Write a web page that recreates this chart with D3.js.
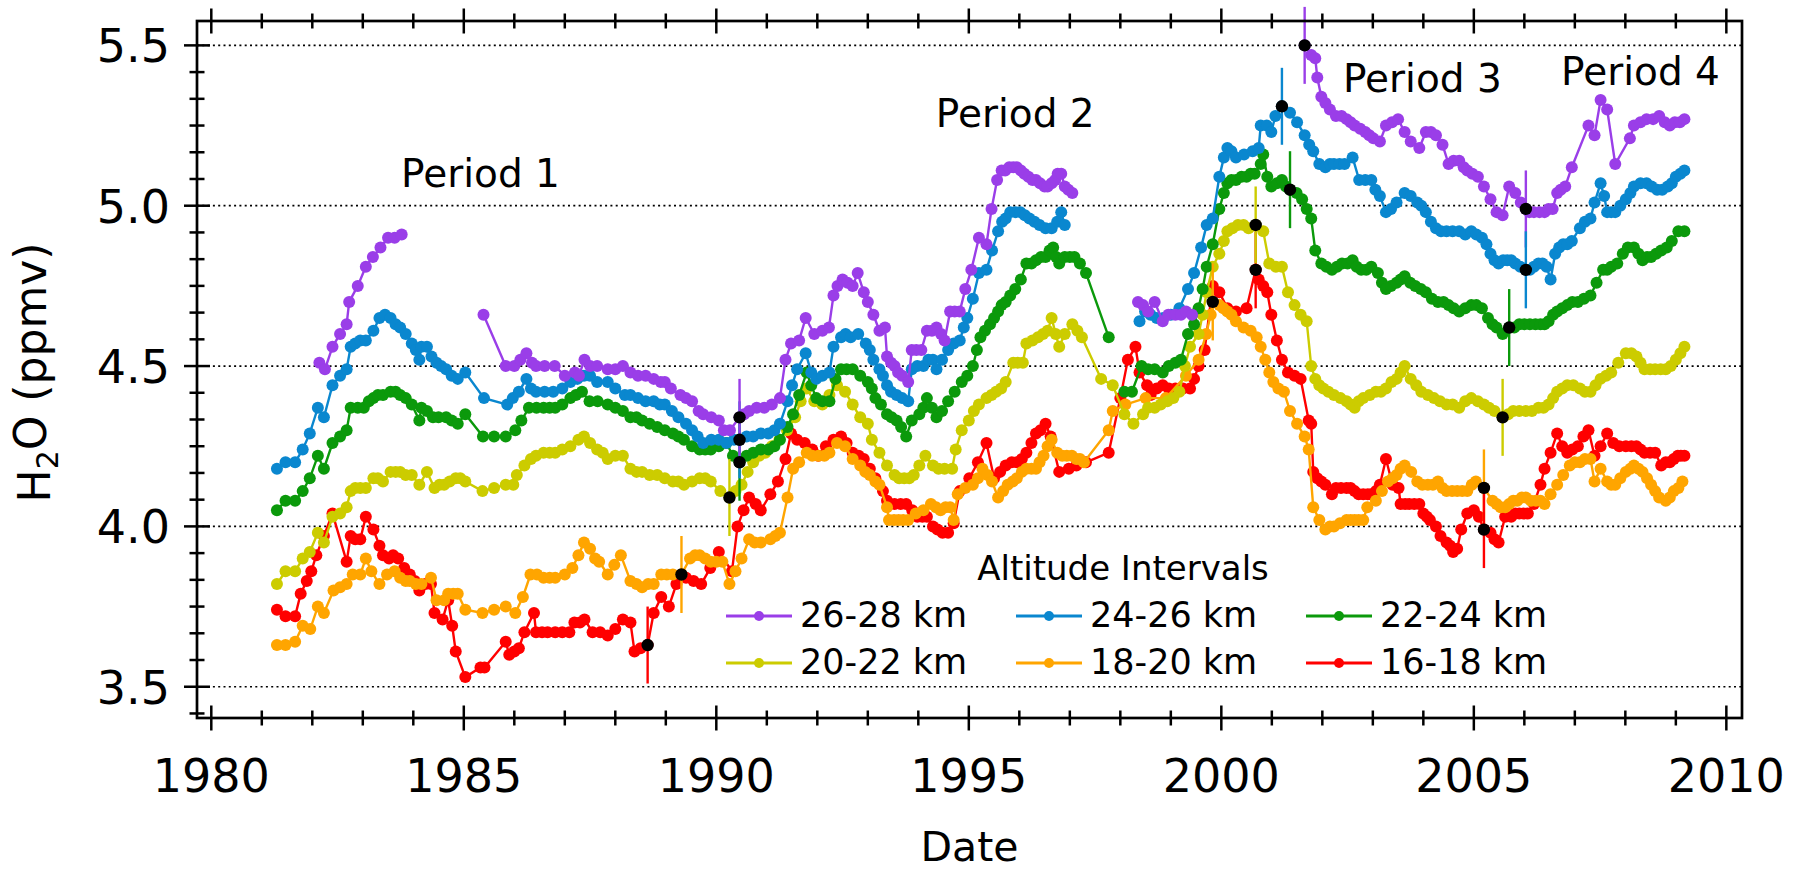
<!DOCTYPE html>
<html>
<head>
<meta charset="utf-8">
<script src="https://cdn.jsdelivr.net/npm/d3@7"></script>
<style>
    body { margin: 0; background: #fff; }
    #chart { width: 1804px; height: 872px; }
    text { font-family: "DejaVu Sans", sans-serif; fill: #000; }
</style>
</head>
<body>
<div id="chart"></div>
<script>
// H2O time series by altitude interval, [year, ppmv], null = gap in the record
const altitudeLabels = ["26-28 km", "24-26 km", "22-24 km", "20-22 km", "18-20 km", "16-18 km"];

const ser2628 = [
    [1982.14,4.51],[1982.25,4.49],[1982.4,4.56],[1982.55,4.60],[1982.68,4.63],[1982.73,4.70],[1982.9,4.75],[1983.06,4.81],[1983.2,4.84],[1983.35,4.87],[1983.5,4.90],[1983.63,4.90],[1983.77,4.91], null,
    [1985.39,4.66],[1985.83,4.50],[1986.0,4.50],[1986.12,4.52],[1986.24,4.54],[1986.35,4.51],[1986.43,4.50],[1986.6,4.50],[1986.8,4.50],[1987.0,4.47],[1987.2,4.48],[1987.28,4.47],[1987.39,4.52],[1987.5,4.50],[1987.64,4.50],[1987.85,4.49],[1988.0,4.49],[1988.15,4.50],[1988.3,4.48],[1988.45,4.47],[1988.6,4.47],[1988.76,4.46],[1988.9,4.45],[1988.98,4.45],[1989.1,4.43],[1989.29,4.41],[1989.4,4.40],[1989.52,4.39],[1989.65,4.36],[1989.74,4.35],[1989.9,4.34],[1990.05,4.33],[1990.15,4.30],[1990.27,4.30],[1990.46,4.34],[1990.55,4.35],[1990.65,4.36],[1990.8,4.37],[1990.95,4.37],[1991.1,4.38],[1991.26,4.40],[1991.37,4.52],[1991.48,4.57],[1991.64,4.58],[1991.77,4.65],[1991.94,4.60],[1992.1,4.61],[1992.23,4.62],[1992.32,4.72],[1992.4,4.75],[1992.5,4.77],[1992.6,4.76],[1992.7,4.75],[1992.8,4.79],[1992.92,4.73],[1993.0,4.70],[1993.11,4.66],[1993.23,4.61],[1993.34,4.62],[1993.38,4.53],[1993.46,4.51],[1993.53,4.50],[1993.6,4.48],[1993.68,4.47],[1993.8,4.45],[1993.87,4.55],[1993.96,4.55],[1994.06,4.55],[1994.17,4.61],[1994.27,4.61],[1994.36,4.62],[1994.45,4.60],[1994.52,4.58],[1994.63,4.67],[1994.72,4.67],[1994.82,4.67],[1994.93,4.74],[1995.05,4.80],[1995.2,4.90],[1995.35,4.88],[1995.45,4.99],[1995.56,5.08],[1995.65,5.11],[1995.72,5.11],[1995.8,5.12],[1995.88,5.12],[1995.95,5.12],[1996.03,5.11],[1996.1,5.10],[1996.18,5.09],[1996.26,5.08],[1996.33,5.08],[1996.41,5.07],[1996.5,5.06],[1996.56,5.06],[1996.64,5.07],[1996.71,5.08],[1996.76,5.10],[1996.83,5.10],[1996.9,5.06],[1996.97,5.05],[1997.05,5.04], null,
    [1998.35,4.70],[1998.45,4.69],[1998.55,4.67],[1998.68,4.70],[1998.84,4.64],[1998.95,4.66],[1999.09,4.66],[1999.2,4.66],[1999.3,4.67],[1999.42,4.66], null,
    [2001.65,5.50],[2001.78,5.47],[2001.86,5.46],[2001.9,5.40],[2001.98,5.34],[2002.06,5.32],[2002.15,5.30],[2002.27,5.28],[2002.38,5.28],[2002.48,5.27],[2002.56,5.26],[2002.64,5.25],[2002.75,5.24],[2002.85,5.23],[2002.93,5.22],[2003.01,5.21],[2003.14,5.20],[2003.26,5.25],[2003.38,5.26],[2003.5,5.27],[2003.63,5.23],[2003.75,5.20],[2003.92,5.18],[2004.05,5.23],[2004.15,5.23],[2004.25,5.22],[2004.38,5.19],[2004.5,5.13],[2004.6,5.14],[2004.71,5.14],[2004.8,5.12],[2004.87,5.11],[2004.97,5.10],[2005.08,5.09],[2005.2,5.06],[2005.33,5.02],[2005.45,4.98],[2005.57,4.97],[2005.7,5.06],[2005.82,5.04],[2005.93,5.01],[2006.03,4.99],[2006.1,4.98],[2006.19,4.98],[2006.3,4.98],[2006.4,4.98],[2006.48,4.99],[2006.56,4.99],[2006.65,5.04],[2006.72,5.05],[2006.81,5.06],[2006.94,5.12],[2007.27,5.25],[2007.39,5.22],[2007.51,5.33],[2007.64,5.30],[2007.8,5.13],[2008.09,5.21],[2008.17,5.25],[2008.3,5.26],[2008.42,5.27],[2008.55,5.27],[2008.67,5.28],[2008.78,5.26],[2008.88,5.25],[2008.98,5.26],[2009.08,5.26],[2009.17,5.27]
];

const ser2426 = [
    [1981.3,4.18],[1981.47,4.20],[1981.66,4.20],[1981.81,4.24],[1981.95,4.29],[1982.11,4.37],[1982.23,4.34],[1982.4,4.44],[1982.55,4.47],[1982.68,4.49],[1982.76,4.56],[1982.85,4.57],[1982.95,4.58],[1983.06,4.58],[1983.21,4.61],[1983.33,4.65],[1983.44,4.66],[1983.55,4.65],[1983.65,4.63],[1983.74,4.62],[1983.85,4.60],[1983.97,4.57],[1984.05,4.55],[1984.12,4.52],[1984.16,4.56],[1984.27,4.56],[1984.36,4.53],[1984.46,4.51],[1984.55,4.50],[1984.65,4.49],[1984.76,4.47],[1984.88,4.46],[1985.03,4.48],[1985.4,4.40],[1985.86,4.38],[1985.97,4.40],[1986.09,4.42],[1986.24,4.46],[1986.33,4.43],[1986.43,4.42],[1986.6,4.42],[1986.77,4.42],[1986.95,4.43],[1987.11,4.45],[1987.25,4.46],[1987.38,4.47],[1987.5,4.47],[1987.64,4.45],[1987.85,4.45],[1988.0,4.43],[1988.19,4.41],[1988.3,4.41],[1988.45,4.40],[1988.6,4.39],[1988.76,4.39],[1988.88,4.38],[1988.98,4.38],[1989.12,4.36],[1989.25,4.34],[1989.4,4.32],[1989.52,4.30],[1989.63,4.28],[1989.74,4.26],[1989.9,4.27],[1990.05,4.27],[1990.2,4.26],[1990.35,4.27],[1990.46,4.27],[1990.6,4.28],[1990.73,4.28],[1990.88,4.29],[1991.03,4.29],[1991.15,4.30],[1991.26,4.32],[1991.41,4.39],[1991.5,4.44],[1991.6,4.49],[1991.77,4.54],[1991.88,4.48],[1991.98,4.46],[1992.1,4.47],[1992.24,4.48],[1992.32,4.56],[1992.47,4.59],[1992.56,4.60],[1992.66,4.59],[1992.81,4.60],[1992.96,4.57],[1993.04,4.55],[1993.11,4.52],[1993.23,4.49],[1993.3,4.47],[1993.38,4.44],[1993.46,4.42],[1993.57,4.41],[1993.68,4.40],[1993.8,4.39],[1993.87,4.49],[1993.98,4.50],[1994.1,4.50],[1994.2,4.52],[1994.29,4.52],[1994.36,4.49],[1994.47,4.52],[1994.59,4.55],[1994.7,4.57],[1994.82,4.58],[1994.9,4.62],[1994.97,4.65],[1995.08,4.71],[1995.2,4.79],[1995.35,4.80],[1995.46,4.86],[1995.58,4.92],[1995.66,4.95],[1995.73,4.96],[1995.82,4.98],[1995.92,4.98],[1996.02,4.98],[1996.11,4.97],[1996.2,4.96],[1996.3,4.95],[1996.4,4.94],[1996.52,4.93],[1996.64,4.93],[1996.75,4.95],[1996.83,4.98],[1996.9,4.94], null,
    [1998.38,4.64],[1998.49,4.67],[1998.6,4.66],[1998.72,4.65],[1998.85,4.65],[1999.0,4.66],[1999.17,4.68],[1999.34,4.74],[1999.46,4.79],[1999.6,4.87],[1999.71,4.94],[1999.83,4.96],[1999.96,5.09],[2000.05,5.15],[2000.12,5.18],[2000.2,5.17],[2000.29,5.15],[2000.45,5.16],[2000.62,5.17],[2000.74,5.18],[2000.78,5.25],[2000.9,5.25],[2000.99,5.23],[2001.07,5.28],[2001.2,5.31],[2001.36,5.29],[2001.5,5.26],[2001.65,5.22],[2001.74,5.19],[2001.82,5.17],[2001.94,5.13],[2002.06,5.12],[2002.15,5.13],[2002.23,5.13],[2002.34,5.13],[2002.44,5.13],[2002.6,5.15],[2002.73,5.08],[2002.85,5.08],[2002.97,5.08],[2003.05,5.05],[2003.14,5.03],[2003.26,4.98],[2003.36,4.99],[2003.47,5.01],[2003.63,5.04],[2003.75,5.03],[2003.88,5.01],[2003.96,5.00],[2004.05,4.98],[2004.15,4.95],[2004.25,4.93],[2004.35,4.92],[2004.46,4.92],[2004.58,4.92],[2004.71,4.92],[2004.83,4.91],[2004.95,4.92],[2005.05,4.91],[2005.16,4.90],[2005.25,4.88],[2005.33,4.85],[2005.41,4.83],[2005.49,4.82],[2005.58,4.83],[2005.66,4.83],[2005.74,4.83],[2005.82,4.82],[2005.92,4.81],[2006.03,4.80],[2006.11,4.80],[2006.19,4.81],[2006.28,4.82],[2006.36,4.82],[2006.44,4.81],[2006.52,4.77],[2006.61,4.85],[2006.69,4.87],[2006.77,4.88],[2006.85,4.88],[2006.94,4.89],[2007.1,4.93],[2007.2,4.95],[2007.31,4.96],[2007.39,5.01],[2007.51,5.07],[2007.58,5.03],[2007.64,4.98],[2007.72,4.98],[2007.8,4.98],[2007.9,5.00],[2008.01,5.02],[2008.1,5.04],[2008.17,5.06],[2008.3,5.07],[2008.42,5.07],[2008.52,5.06],[2008.63,5.05],[2008.73,5.05],[2008.84,5.06],[2008.92,5.07],[2009.0,5.09],[2009.09,5.10],[2009.17,5.11]
];

const ser2224 = [
    [1981.3,4.05],[1981.47,4.08],[1981.66,4.08],[1981.81,4.11],[1981.95,4.15],[1982.11,4.22],[1982.23,4.18],[1982.4,4.26],[1982.55,4.28],[1982.68,4.30],[1982.76,4.37],[1982.9,4.37],[1983.02,4.37],[1983.12,4.39],[1983.21,4.40],[1983.3,4.41],[1983.4,4.41],[1983.55,4.42],[1983.65,4.42],[1983.74,4.41],[1983.85,4.40],[1983.97,4.38],[1984.12,4.33],[1984.16,4.37],[1984.27,4.36],[1984.39,4.34],[1984.5,4.34],[1984.65,4.34],[1984.76,4.33],[1984.88,4.32],[1985.03,4.35],[1985.38,4.28],[1985.6,4.28],[1985.83,4.28],[1986.02,4.30],[1986.14,4.33],[1986.29,4.37],[1986.44,4.37],[1986.58,4.37],[1986.7,4.37],[1986.81,4.37],[1986.95,4.38],[1987.11,4.40],[1987.22,4.41],[1987.34,4.42],[1987.49,4.39],[1987.65,4.39],[1987.85,4.38],[1988.0,4.37],[1988.15,4.36],[1988.3,4.34],[1988.42,4.34],[1988.53,4.33],[1988.68,4.32],[1988.83,4.31],[1988.98,4.30],[1989.14,4.29],[1989.25,4.28],[1989.36,4.27],[1989.52,4.25],[1989.67,4.24],[1989.78,4.24],[1989.89,4.24],[1990.05,4.25],[1990.2,4.26],[1990.33,4.22],[1990.46,4.20],[1990.6,4.22],[1990.73,4.23],[1990.88,4.24],[1991.03,4.24],[1991.15,4.25],[1991.26,4.27],[1991.41,4.31],[1991.52,4.35],[1991.64,4.41],[1991.79,4.48],[1991.88,4.44],[1991.98,4.40],[1992.1,4.39],[1992.24,4.39],[1992.36,4.46],[1992.47,4.49],[1992.58,4.49],[1992.7,4.49],[1992.85,4.47],[1993.0,4.45],[1993.08,4.43],[1993.15,4.40],[1993.26,4.38],[1993.38,4.35],[1993.47,4.34],[1993.57,4.33],[1993.66,4.31],[1993.76,4.28],[1993.87,4.33],[1994.02,4.35],[1994.1,4.37],[1994.17,4.40],[1994.27,4.37],[1994.36,4.34],[1994.47,4.36],[1994.59,4.39],[1994.72,4.42],[1994.86,4.45],[1994.97,4.47],[1995.08,4.50],[1995.16,4.55],[1995.23,4.59],[1995.32,4.61],[1995.42,4.63],[1995.5,4.65],[1995.58,4.67],[1995.65,4.69],[1995.73,4.70],[1995.82,4.72],[1995.92,4.74],[1996.03,4.77],[1996.14,4.82],[1996.24,4.82],[1996.33,4.83],[1996.43,4.84],[1996.52,4.84],[1996.6,4.86],[1996.67,4.87],[1996.73,4.84],[1996.79,4.82],[1996.9,4.84],[1997.0,4.84],[1997.09,4.84],[1997.2,4.82],[1997.32,4.79],[1997.77,4.59], null,
    [1998.08,4.42],[1998.23,4.42],[1998.42,4.50],[1998.55,4.49],[1998.68,4.49],[1998.84,4.48],[1998.96,4.50],[1999.09,4.51],[1999.2,4.52],[1999.34,4.60],[1999.46,4.63],[1999.55,4.68],[1999.63,4.74],[1999.71,4.81],[1999.83,4.88],[1999.96,4.99],[2000.05,5.04],[2000.12,5.07],[2000.2,5.08],[2000.29,5.08],[2000.4,5.09],[2000.5,5.09],[2000.58,5.10],[2000.66,5.10],[2000.78,5.13],[2000.83,5.16],[2000.91,5.09],[2000.99,5.06],[2001.1,5.07],[2001.2,5.08],[2001.28,5.06],[2001.36,5.05],[2001.49,5.04],[2001.6,5.02],[2001.69,4.99],[2001.78,4.96],[2001.86,4.86],[2001.98,4.82],[2002.08,4.81],[2002.19,4.80],[2002.29,4.81],[2002.39,4.82],[2002.5,4.82],[2002.6,4.83],[2002.68,4.81],[2002.77,4.80],[2002.87,4.80],[2002.97,4.81],[2003.1,4.79],[2003.18,4.76],[2003.26,4.74],[2003.36,4.75],[2003.47,4.76],[2003.55,4.77],[2003.63,4.78],[2003.74,4.76],[2003.84,4.75],[2003.95,4.74],[2004.05,4.73],[2004.17,4.71],[2004.29,4.70],[2004.4,4.70],[2004.5,4.69],[2004.6,4.68],[2004.71,4.67],[2004.83,4.68],[2004.95,4.69],[2005.05,4.69],[2005.16,4.68],[2005.28,4.65],[2005.37,4.63],[2005.45,4.62],[2005.57,4.60],[2005.7,4.62],[2005.8,4.62],[2005.9,4.63],[2006.0,4.63],[2006.11,4.63],[2006.22,4.63],[2006.32,4.63],[2006.4,4.63],[2006.48,4.64],[2006.57,4.66],[2006.65,4.67],[2006.75,4.68],[2006.85,4.69],[2006.95,4.70],[2007.06,4.70],[2007.18,4.71],[2007.31,4.72],[2007.43,4.76],[2007.56,4.80],[2007.64,4.80],[2007.72,4.81],[2007.84,4.82],[2007.95,4.85],[2008.05,4.87],[2008.17,4.87],[2008.26,4.85],[2008.34,4.83],[2008.43,4.84],[2008.51,4.84],[2008.61,4.85],[2008.71,4.86],[2008.82,4.87],[2008.92,4.89],[2009.05,4.92],[2009.17,4.92]
];

const ser2022 = [
    [1981.3,3.82],[1981.47,3.86],[1981.66,3.86],[1981.81,3.90],[1981.95,3.92],[1982.11,3.98],[1982.23,3.95],[1982.4,4.03],[1982.55,4.04],[1982.68,4.06],[1982.76,4.11],[1982.85,4.12],[1982.95,4.12],[1983.06,4.12],[1983.21,4.15],[1983.3,4.15],[1983.4,4.14],[1983.55,4.17],[1983.65,4.17],[1983.74,4.17],[1983.85,4.16],[1983.97,4.16],[1984.12,4.13],[1984.27,4.17],[1984.42,4.12],[1984.52,4.13],[1984.61,4.13],[1984.72,4.14],[1984.84,4.15],[1984.93,4.15],[1985.03,4.14],[1985.37,4.11],[1985.6,4.12],[1985.83,4.13],[1985.98,4.13],[1986.05,4.16],[1986.2,4.19],[1986.33,4.21],[1986.43,4.22],[1986.58,4.23],[1986.7,4.23],[1986.81,4.23],[1986.95,4.24],[1987.11,4.25],[1987.27,4.27],[1987.38,4.28],[1987.5,4.26],[1987.64,4.24],[1987.75,4.23],[1987.85,4.21],[1988.0,4.22],[1988.15,4.22],[1988.3,4.18],[1988.42,4.17],[1988.53,4.17],[1988.68,4.16],[1988.83,4.16],[1988.98,4.15],[1989.14,4.14],[1989.25,4.14],[1989.36,4.13],[1989.52,4.14],[1989.67,4.15],[1989.78,4.15],[1989.89,4.14],[1990.08,4.11],[1990.26,4.09],[1990.38,4.11],[1990.5,4.13],[1990.62,4.17],[1990.73,4.20],[1990.85,4.22],[1990.97,4.23],[1991.1,4.25],[1991.25,4.27],[1991.4,4.30],[1991.56,4.34],[1991.67,4.39],[1991.79,4.43],[1991.94,4.39],[1992.1,4.38],[1992.24,4.41],[1992.39,4.44],[1992.55,4.42],[1992.7,4.38],[1992.85,4.34],[1993.0,4.32],[1993.08,4.27],[1993.23,4.23],[1993.38,4.19],[1993.53,4.16],[1993.62,4.15],[1993.72,4.15],[1993.82,4.15],[1993.91,4.16],[1994.02,4.19],[1994.14,4.22],[1994.29,4.19],[1994.4,4.18],[1994.52,4.18],[1994.67,4.18],[1994.74,4.24],[1994.86,4.30],[1995.0,4.33],[1995.1,4.36],[1995.2,4.38],[1995.35,4.40],[1995.45,4.41],[1995.54,4.42],[1995.64,4.43],[1995.73,4.45],[1995.88,4.51],[1995.97,4.51],[1996.07,4.51],[1996.14,4.57],[1996.26,4.58],[1996.37,4.59],[1996.47,4.60],[1996.56,4.61],[1996.64,4.65],[1996.72,4.60],[1996.79,4.56],[1996.9,4.60],[1997.05,4.63],[1997.15,4.61],[1997.24,4.59],[1997.62,4.46],[1997.85,4.44],[1998.08,4.35],[1998.26,4.32],[1998.45,4.35],[1998.55,4.37],[1998.68,4.37],[1998.8,4.38],[1998.93,4.39],[1999.05,4.40],[1999.17,4.42],[1999.28,4.50],[1999.38,4.56],[1999.55,4.60],[1999.63,4.66],[1999.71,4.73],[1999.83,4.81],[1999.96,4.85],[2000.05,4.89],[2000.12,4.92],[2000.22,4.93],[2000.33,4.94],[2000.44,4.94],[2000.54,4.93],[2000.68,4.94],[2000.83,4.92],[2000.95,4.82],[2001.08,4.81],[2001.2,4.81],[2001.32,4.73],[2001.45,4.69],[2001.57,4.66],[2001.69,4.64],[2001.78,4.50],[2001.86,4.46],[2001.94,4.44],[2002.02,4.43],[2002.12,4.42],[2002.23,4.41],[2002.36,4.40],[2002.48,4.39],[2002.56,4.38],[2002.64,4.37],[2002.72,4.39],[2002.81,4.40],[2002.94,4.41],[2003.06,4.42],[2003.16,4.42],[2003.26,4.43],[2003.37,4.45],[2003.47,4.46],[2003.55,4.48],[2003.63,4.50],[2003.75,4.46],[2003.86,4.44],[2003.96,4.42],[2004.09,4.41],[2004.21,4.40],[2004.33,4.39],[2004.46,4.38],[2004.58,4.38],[2004.71,4.37],[2004.83,4.39],[2004.95,4.40],[2005.08,4.39],[2005.2,4.38],[2005.3,4.37],[2005.41,4.36],[2005.57,4.34],[2005.68,4.35],[2005.78,4.36],[2005.9,4.36],[2006.03,4.36],[2006.15,4.36],[2006.28,4.37],[2006.38,4.37],[2006.48,4.38],[2006.57,4.40],[2006.65,4.42],[2006.75,4.43],[2006.85,4.44],[2006.97,4.44],[2007.1,4.43],[2007.2,4.42],[2007.31,4.42],[2007.41,4.44],[2007.51,4.46],[2007.62,4.47],[2007.72,4.48],[2007.86,4.51],[2008.01,4.54],[2008.12,4.54],[2008.22,4.53],[2008.3,4.51],[2008.38,4.49],[2008.49,4.49],[2008.59,4.49],[2008.7,4.49],[2008.8,4.49],[2008.9,4.50],[2009.0,4.52],[2009.09,4.54],[2009.17,4.56]
];

const ser1820 = [
    [1981.3,3.63],[1981.47,3.63],[1981.66,3.64],[1981.81,3.69],[1981.96,3.68],[1982.11,3.75],[1982.23,3.73],[1982.42,3.80],[1982.55,3.81],[1982.68,3.82],[1982.8,3.85],[1982.95,3.85],[1983.06,3.90],[1983.17,3.86],[1983.33,3.82],[1983.48,3.85],[1983.63,3.86],[1983.74,3.84],[1983.85,3.83],[1983.93,3.83],[1984.05,3.82],[1984.16,3.82],[1984.35,3.84],[1984.46,3.77],[1984.61,3.77],[1984.69,3.79],[1984.79,3.79],[1984.88,3.79],[1985.03,3.74],[1985.37,3.73],[1985.6,3.74],[1985.83,3.75],[1986.02,3.73],[1986.17,3.78],[1986.32,3.85],[1986.45,3.85],[1986.58,3.84],[1986.7,3.84],[1986.81,3.84],[1987.0,3.85],[1987.15,3.87],[1987.27,3.91],[1987.38,3.95],[1987.5,3.93],[1987.6,3.90],[1987.68,3.89],[1987.85,3.85],[1987.98,3.88],[1988.11,3.91],[1988.3,3.83],[1988.42,3.82],[1988.53,3.81],[1988.65,3.82],[1988.76,3.82],[1988.91,3.85],[1989.02,3.85],[1989.14,3.85],[1989.31,3.85],[1989.48,3.90],[1989.58,3.91],[1989.67,3.91],[1989.78,3.90],[1989.89,3.89],[1990.0,3.89],[1990.12,3.89],[1990.26,3.82],[1990.38,3.86],[1990.5,3.90],[1990.65,3.96],[1990.76,3.95],[1990.88,3.95],[1991.07,3.96],[1991.17,3.97],[1991.26,3.98],[1991.41,4.09],[1991.52,4.18],[1991.64,4.20],[1991.79,4.23],[1991.9,4.22],[1992.02,4.22],[1992.14,4.22],[1992.24,4.23],[1992.39,4.26],[1992.55,4.25],[1992.7,4.21],[1992.85,4.19],[1992.95,4.17],[1993.04,4.16],[1993.15,4.14],[1993.23,4.13],[1993.38,4.06],[1993.42,4.02],[1993.52,4.02],[1993.61,4.02],[1993.7,4.02],[1993.8,4.02],[1993.95,4.04],[1994.1,4.05],[1994.25,4.07],[1994.35,4.06],[1994.44,4.05],[1994.54,4.06],[1994.63,4.06],[1994.7,4.02],[1994.78,4.10],[1994.93,4.12],[1995.08,4.13],[1995.18,4.15],[1995.27,4.18],[1995.37,4.16],[1995.46,4.14],[1995.58,4.09],[1995.68,4.11],[1995.77,4.13],[1995.87,4.14],[1995.95,4.15],[1996.05,4.17],[1996.14,4.18],[1996.24,4.18],[1996.33,4.18],[1996.4,4.20],[1996.48,4.22],[1996.56,4.25],[1996.64,4.27],[1996.75,4.23],[1996.85,4.22],[1996.94,4.22],[1997.04,4.22],[1997.13,4.21],[1997.2,4.21],[1997.28,4.20],[1997.77,4.30],[1997.85,4.36],[1998.1,4.38],[1998.5,4.40],[1998.9,4.40],[1999.3,4.47],[1999.55,4.52],[1999.7,4.60],[1999.79,4.66],[1999.83,4.70],[1999.96,4.69],[2000.04,4.68],[2000.12,4.67],[2000.2,4.66],[2000.29,4.64],[2000.44,4.62],[2000.58,4.61],[2000.7,4.59],[2000.78,4.56],[2000.87,4.52],[2000.95,4.48],[2001.03,4.45],[2001.13,4.43],[2001.24,4.42],[2001.36,4.36],[2001.5,4.32],[2001.65,4.28],[2001.73,4.24],[2001.82,4.06],[2001.94,4.02],[2002.06,3.99],[2002.15,4.00],[2002.23,4.00],[2002.35,4.01],[2002.48,4.02],[2002.56,4.02],[2002.64,4.02],[2002.72,4.02],[2002.81,4.02],[2002.89,4.06],[2003.06,4.08],[2003.18,4.11],[2003.3,4.14],[2003.39,4.15],[2003.47,4.16],[2003.55,4.18],[2003.63,4.19],[2003.76,4.17],[2003.88,4.14],[2003.98,4.13],[2004.09,4.13],[2004.19,4.13],[2004.29,4.14],[2004.38,4.12],[2004.46,4.11],[2004.57,4.11],[2004.67,4.11],[2004.77,4.11],[2004.87,4.11],[2004.96,4.13],[2005.04,4.14],[2005.2,4.12],[2005.37,4.08],[2005.45,4.07],[2005.53,4.06],[2005.62,4.06],[2005.7,4.07],[2005.78,4.08],[2005.86,4.08],[2005.95,4.09],[2006.03,4.09],[2006.13,4.08],[2006.23,4.08],[2006.32,4.08],[2006.4,4.07],[2006.52,4.10],[2006.65,4.13],[2006.77,4.16],[2006.9,4.19],[2007.0,4.20],[2007.1,4.20],[2007.2,4.21],[2007.31,4.21],[2007.39,4.14],[2007.51,4.18],[2007.64,4.14],[2007.72,4.13],[2007.8,4.13],[2007.9,4.15],[2008.01,4.17],[2008.1,4.18],[2008.17,4.19],[2008.26,4.18],[2008.34,4.17],[2008.43,4.15],[2008.51,4.13],[2008.59,4.11],[2008.67,4.09],[2008.8,4.08],[2008.88,4.09],[2008.96,4.11],[2009.05,4.12],[2009.13,4.14]
];

const ser1618 = [
    [1981.3,3.74],[1981.47,3.72],[1981.66,3.72],[1981.77,3.79],[1981.89,3.83],[1981.98,3.86],[1982.08,3.91],[1982.23,3.97],[1982.4,4.04],[1982.68,3.89],[1982.76,3.97],[1982.85,3.96],[1982.95,3.96],[1983.06,4.03],[1983.21,3.99],[1983.33,3.94],[1983.4,3.91],[1983.52,3.90],[1983.6,3.91],[1983.7,3.90],[1983.82,3.87],[1983.93,3.85],[1984.03,3.83],[1984.12,3.80],[1984.24,3.82],[1984.35,3.82],[1984.42,3.73],[1984.58,3.71],[1984.69,3.77],[1984.77,3.69],[1984.84,3.61],[1985.03,3.53],[1985.33,3.56],[1985.41,3.56],[1985.83,3.64],[1985.9,3.60],[1986.0,3.61],[1986.09,3.62],[1986.2,3.67],[1986.39,3.73],[1986.43,3.67],[1986.55,3.67],[1986.66,3.67],[1986.81,3.67],[1986.95,3.67],[1987.09,3.67],[1987.19,3.70],[1987.3,3.70],[1987.39,3.71],[1987.55,3.67],[1987.7,3.67],[1987.85,3.66],[1988.0,3.68],[1988.15,3.71],[1988.3,3.70],[1988.38,3.61],[1988.5,3.62],[1988.64,3.63],[1988.76,3.73],[1988.91,3.78],[1989.06,3.75],[1989.21,3.82],[1989.4,3.84],[1989.55,3.83],[1989.7,3.82],[1989.88,3.87],[1990.05,3.92],[1990.31,3.86],[1990.42,4.00],[1990.54,4.05],[1990.65,4.09],[1990.78,4.07],[1990.88,4.05],[1991.07,4.10],[1991.22,4.14],[1991.37,4.21],[1991.48,4.29],[1991.6,4.27],[1991.75,4.26],[1991.9,4.24],[1992.02,4.22],[1992.17,4.25],[1992.32,4.27],[1992.47,4.28],[1992.58,4.26],[1992.7,4.23],[1992.82,4.22],[1992.92,4.21],[1993.04,4.18],[1993.15,4.15],[1993.3,4.11],[1993.38,4.08],[1993.53,4.07],[1993.65,4.07],[1993.76,4.07],[1993.88,4.05],[1993.98,4.03],[1994.08,4.03],[1994.17,4.03],[1994.29,4.00],[1994.38,3.99],[1994.48,3.98],[1994.59,3.98],[1994.7,4.01],[1994.82,4.11],[1995.01,4.15],[1995.18,4.20],[1995.35,4.26],[1995.5,4.15],[1995.62,4.17],[1995.73,4.19],[1995.85,4.20],[1995.95,4.20],[1996.05,4.21],[1996.14,4.23],[1996.24,4.26],[1996.33,4.29],[1996.42,4.30],[1996.52,4.32],[1996.62,4.28],[1996.79,4.17],[1996.98,4.18],[1997.13,4.19],[1997.32,4.20],[1997.77,4.23],[1998.0,4.40],[1998.15,4.52],[1998.3,4.56],[1998.38,4.48],[1998.53,4.44],[1998.6,4.41],[1998.72,4.43],[1998.84,4.44],[1998.96,4.43],[1999.09,4.43],[1999.24,4.43],[1999.38,4.43],[1999.46,4.46],[1999.55,4.50],[1999.67,4.55],[1999.83,4.75],[1999.96,4.73],[2000.12,4.68],[2000.29,4.67],[2000.5,4.68],[2000.68,4.80],[2000.74,4.77],[2000.83,4.75],[2000.91,4.73],[2000.99,4.66],[2001.1,4.58],[2001.2,4.52],[2001.32,4.48],[2001.45,4.47],[2001.57,4.46],[2001.73,4.33],[2001.78,4.32],[2001.82,4.17],[2001.9,4.15],[2001.98,4.14],[2002.06,4.13],[2002.19,4.10],[2002.27,4.12],[2002.37,4.12],[2002.48,4.12],[2002.56,4.12],[2002.64,4.11],[2002.72,4.10],[2002.81,4.10],[2002.9,4.10],[2002.97,4.10],[2003.06,4.11],[2003.14,4.13],[2003.26,4.21],[2003.39,4.13],[2003.51,4.12],[2003.55,4.07],[2003.64,4.07],[2003.72,4.07],[2003.82,4.07],[2003.92,4.07],[2004.0,4.04],[2004.07,4.03],[2004.13,4.02],[2004.25,4.00],[2004.34,3.97],[2004.46,3.95],[2004.53,3.94],[2004.59,3.92],[2004.67,3.93],[2004.75,3.99],[2004.87,4.04],[2005.0,4.05],[2005.1,4.03],[2005.2,3.99],[2005.33,3.98],[2005.41,3.96],[2005.49,3.95],[2005.62,4.03],[2005.74,4.03],[2005.82,4.04],[2005.9,4.04],[2005.98,4.04],[2006.07,4.04],[2006.19,4.07],[2006.32,4.13],[2006.4,4.18],[2006.52,4.23],[2006.65,4.29],[2006.75,4.25],[2006.85,4.23],[2006.95,4.24],[2007.06,4.25],[2007.17,4.28],[2007.27,4.30],[2007.39,4.22],[2007.51,4.25],[2007.64,4.29],[2007.76,4.26],[2007.88,4.25],[2008.01,4.25],[2008.12,4.25],[2008.22,4.25],[2008.3,4.24],[2008.38,4.23],[2008.49,4.23],[2008.59,4.23],[2008.71,4.19],[2008.8,4.20],[2008.88,4.20],[2008.96,4.21],[2009.04,4.22],[2009.1,4.22],[2009.17,4.22]
];

// highlighted points with uncertainty bars (series index into altitudeLabels)
const errSeries = [5, 4, 3, 2, 1, 0, 4, 5, 3, 1, 2, 0, 4, 5, 3, 2, 0, 1];
const errYears  = [1988.64, 1989.31, 1990.26, 1990.46, 1990.46, 1990.46, 1999.83, 2000.68, 2000.68, 2001.2, 2001.36, 2001.65, 2005.2, 2005.2, 2005.57, 2005.7, 2006.03, 2006.03];
const errValues = [3.63, 3.85, 4.09, 4.20, 4.27, 4.34, 4.70, 4.80, 4.94, 5.31, 5.05, 5.50, 4.12, 3.99, 4.34, 4.62, 4.99, 4.80];
const errHalf   = [0.12, 0.12, 0.12, 0.12, 0.12, 0.12, 0.12, 0.12, 0.12, 0.12, 0.12, 0.12, 0.12, 0.12, 0.12, 0.12, 0.12, 0.12];

const periodNames = ["Period 1", "Period 2", "Period 3", "Period 4"];
const yTickLabels = ["3.5", "4.0", "4.5", "5.0", "5.5"];
const xTickLabels = ["1980", "1985", "1990", "1995", "2000", "2005", "2010"];

class WaterVaporChart {
    constructor(_parentElement) {
        this.parentElement = _parentElement;
        this.series = [ser2628, ser2426, ser2224, ser2022, ser1820, ser1618];
        this.colors = ["#9a3ee8", "#0a87cf", "#0b990b", "#cccc00", "#ffa500", "#ff0000"];
        this.initVis();
    }

    initVis() {
        let vis = this;
        vis.margin = { top: 21, right: 62, bottom: 154, left: 197 };
        vis.width = 1804 - vis.margin.left - vis.margin.right;
        vis.height = 872 - vis.margin.top - vis.margin.bottom;

        vis.svg = d3.select("#" + vis.parentElement).append("svg")
            .attr("width", 1804)
            .attr("height", 872)
            .append("g")
            .attr("transform", `translate(${vis.margin.left}, ${vis.margin.top})`);

        vis.x = d3.scaleLinear().domain([1979.717, 2010.31]).range([0, vis.width]);
        vis.y = d3.scaleLinear().domain([3.4025, 5.576]).range([vis.height, 0]);

        // dotted grid at the labelled values
        vis.svg.selectAll(".grid")
            .data(yTickLabels)
            .enter().append("line")
            .attr("class", "grid")
            .attr("x1", 0).attr("x2", vis.width)
            .attr("y1", d => vis.y(+d)).attr("y2", d => vis.y(+d))
            .attr("stroke", "#000")
            .attr("stroke-width", 1.7)
            .attr("stroke-dasharray", "2,3.3");

        vis.drawSeries();
        vis.drawErrors();
        vis.drawAxes();
        vis.drawLabels();
        vis.drawLegend();
    }

    drawSeries() {
        let vis = this;
        let line = d3.line()
            .defined(d => d !== null)
            .x(d => vis.x(d[0]))
            .y(d => vis.y(d[1]));

        // draw lowest altitude first so the upper layers sit on top
        for (let i = vis.series.length - 1; i >= 0; i--) {
            let g = vis.svg.append("g").attr("class", "series");
            g.append("path")
                .datum(vis.series[i])
                .attr("d", line)
                .attr("fill", "none")
                .attr("stroke", vis.colors[i])
                .attr("stroke-width", 2.4);
            g.selectAll("circle")
                .data(vis.series[i].filter(d => d !== null))
                .enter().append("circle")
                .attr("cx", d => vis.x(d[0]))
                .attr("cy", d => vis.y(d[1]))
                .attr("r", 6)
                .attr("fill", vis.colors[i]);
        }
    }

    drawErrors() {
        let vis = this;
        let idx = d3.range(errYears.length);

        vis.svg.selectAll(".errbar")
            .data(idx)
            .enter().append("line")
            .attr("class", "errbar")
            .attr("x1", i => vis.x(errYears[i])).attr("x2", i => vis.x(errYears[i]))
            .attr("y1", i => vis.y(errValues[i] - errHalf[i]))
            .attr("y2", i => vis.y(errValues[i] + errHalf[i]))
            .attr("stroke", i => vis.colors[errSeries[i]])
            .attr("stroke-width", 2.4);

        vis.svg.selectAll(".errdot")
            .data(idx)
            .enter().append("circle")
            .attr("class", "errdot")
            .attr("cx", i => vis.x(errYears[i]))
            .attr("cy", i => vis.y(errValues[i]))
            .attr("r", 6.2)
            .attr("fill", "#000");
    }

    drawAxes() {
        let vis = this;
        let axisG = vis.svg.append("g").attr("class", "axes");
        let years = d3.range(1980, 2011);
        let yMinor = d3.range(0, 26).map(k => 3.5 + (k - 1) * 0.5 / 6).filter(v => v >= 3.4025 && v <= 5.576);

        // frame
        axisG.append("rect")
            .attr("x", 0).attr("y", 0)
            .attr("width", vis.width).attr("height", vis.height)
            .attr("fill", "none")
            .attr("stroke", "#000")
            .attr("stroke-width", 2.7);

        // x ticks on bottom and top, crossing the axis line
        [vis.height, 0].forEach(base => {
            axisG.selectAll(null)
                .data(years)
                .enter().append("line")
                .attr("x1", d => vis.x(d)).attr("x2", d => vis.x(d))
                .attr("y1", d => base - (d % 5 === 0 ? 12.5 : 7.5))
                .attr("y2", d => base + (d % 5 === 0 ? 12.5 : 7.5))
                .attr("stroke", "#000")
                .attr("stroke-width", 2.5);
        });

        // y ticks on the left axis
        axisG.selectAll(".ytick")
            .data(yMinor)
            .enter().append("line")
            .attr("class", "ytick")
            .attr("y1", d => vis.y(d)).attr("y2", d => vis.y(d))
            .attr("x1", d => (Math.abs(d * 2 - Math.round(d * 2)) < 1e-6 ? -13 : -7.5))
            .attr("x2", d => (Math.abs(d * 2 - Math.round(d * 2)) < 1e-6 ? 13 : 7.5))
            .attr("stroke", "#000")
            .attr("stroke-width", 2.5);

        axisG.selectAll(".ylabel")
            .data(yTickLabels)
            .enter().append("text")
            .attr("class", "ylabel")
            .attr("x", -27)
            .attr("y", d => vis.y(+d))
            .attr("dy", "0.365em")
            .attr("text-anchor", "end")
            .style("font-size", "46px")
            .text(d => d);

        axisG.selectAll(".xlabel")
            .data(xTickLabels)
            .enter().append("text")
            .attr("class", "xlabel")
            .attr("x", d => vis.x(+d))
            .attr("y", vis.height + 74)
            .attr("text-anchor", "middle")
            .style("font-size", "46px")
            .text(d => d);

        axisG.append("text")
            .attr("x", vis.width / 2)
            .attr("y", vis.height + 143)
            .attr("text-anchor", "middle")
            .style("font-size", "41px")
            .text("Date");

        let yTitle = axisG.append("text")
            .attr("transform", `translate(${50 - vis.margin.left}, ${vis.height / 2 + 3}) rotate(-90)`)
            .attr("text-anchor", "middle")
            .style("font-size", "44px");
        yTitle.append("tspan").text("H");
        yTitle.append("tspan").attr("dy", "0.28em").style("font-size", "30px").text("2");
        yTitle.append("tspan").attr("dy", "-0.28em").text("O (ppmv)");
    }

    drawLabels() {
        let vis = this;
        // annotation anchors in data units (year, ppmv)
        let anchors = [[1985.33, 5.058], [1995.92, 5.245], [2003.98, 5.354], [2008.30, 5.376]];
        vis.svg.selectAll(".period")
            .data(periodNames)
            .enter().append("text")
            .attr("class", "period")
            .attr("x", (d, i) => vis.x(anchors[i][0]))
            .attr("y", (d, i) => vis.y(anchors[i][1]))
            .attr("text-anchor", "middle")
            .style("font-size", "39px")
            .text(d => d);
    }

    drawLegend() {
        let vis = this;
        let lg = vis.svg.append("g")
            .attr("class", "legend")
            .attr("transform", `translate(${-vis.margin.left}, ${-vis.margin.top})`);

        lg.append("text")
            .attr("x", 1123).attr("y", 580)
            .attr("text-anchor", "middle")
            .style("font-size", "34px")
            .text("Altitude Intervals");

        let colX = [726, 1016, 1306];
        let rowY = [616, 663];
        let items = lg.selectAll(".item")
            .data(altitudeLabels)
            .enter().append("g")
            .attr("class", "item")
            .attr("transform", (d, i) => `translate(${colX[i % 3]}, ${rowY[Math.floor(i / 3)]})`);

        items.append("line")
            .attr("x1", 0).attr("x2", 66)
            .attr("stroke", (d, i) => vis.colors[i])
            .attr("stroke-width", 3);
        items.append("circle")
            .attr("cx", 33).attr("r", 5)
            .attr("fill", (d, i) => vis.colors[i]);
        items.append("text")
            .attr("x", 74).attr("y", 11)
            .style("font-size", "35px")
            .text(d => d);
    }
}

new WaterVaporChart("chart");
</script>
</body>
</html>
